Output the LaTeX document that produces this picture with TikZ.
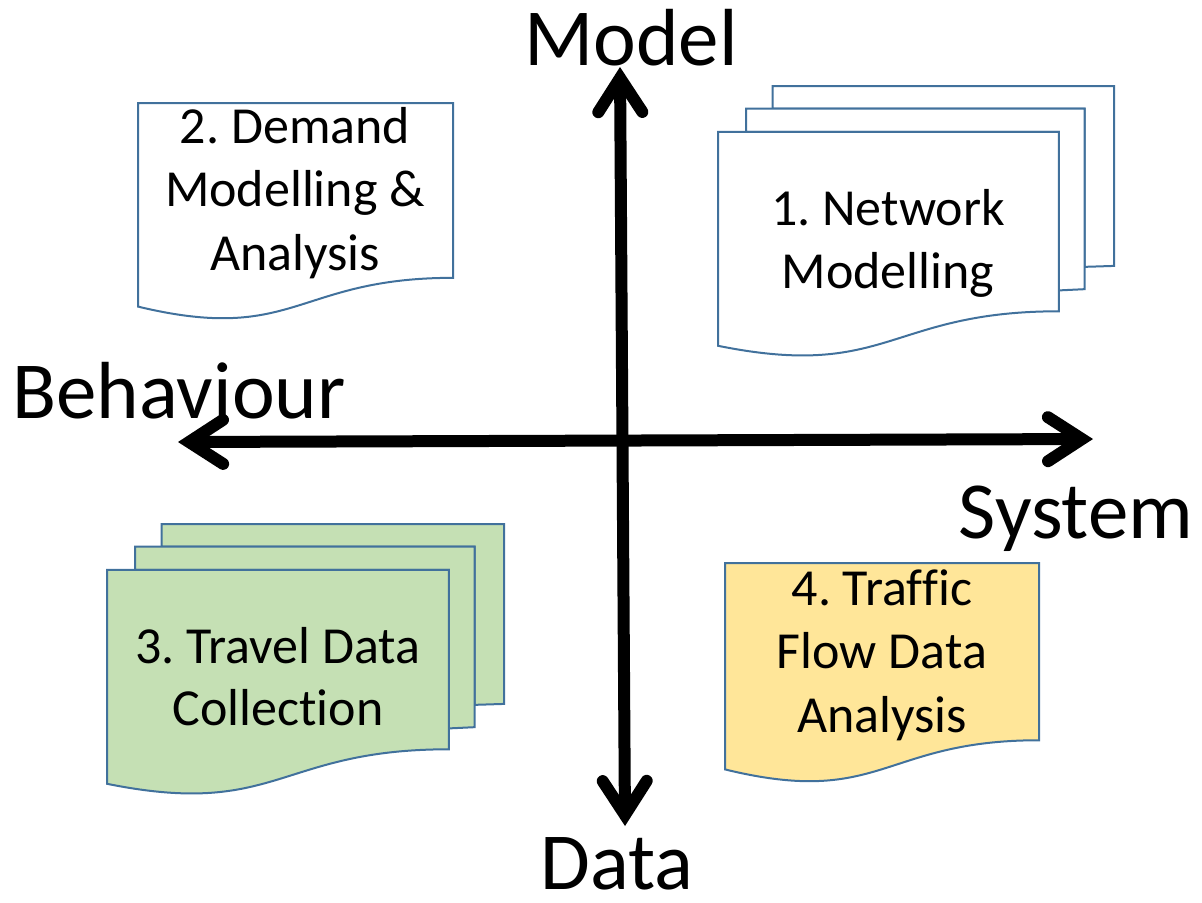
\documentclass[tikz,border=0pt]{standalone}
\usepackage{fontspec}
\setmainfont[RawFeature={-liga;-clig;-dlig;-calt}]{Carlito}
\usetikzlibrary{arrows.meta,calc}
\frenchspacing

\definecolor{sheetline}{HTML}{41719C}
\definecolor{sheetgreen}{HTML}{C5E0B4}
\definecolor{sheetyellow}{HTML}{FFE699}

% single document sheet with a wavy bottom edge: #1,#2 = top-left, #3 = width, #4 = height, #5 = fill
\newcommand{\DocSheet}[5]{%
  \draw[sheet, fill=#5]
    (#1,#2) -- ({#1+#3},#2) -- ({#1+#3},{#2+0.80194*#4})
    .. controls ({#1+0.5*#3},{#2+0.80194*#4}) and ({#1+0.5*#3},{#2+1.10750*#4}) ..
    (#1,{#2+0.93389*#4}) -- cycle;}

% stack of three document sheets: #1,#2 = top-left, #3 = width, #4 = height, #5 = fill
\newcommand{\MultiDocSheet}[5]{%
  % back sheet
  \draw[sheet, fill=#5]
    ({#1+0.13759*#3},#2) -- ({#1+#3},#2) -- ({#1+#3},{#2+0.66630*#4})
    -- ({#1+0.92593*#3},{#2+0.66977*#4}) -- ({#1+0.92593*#3},{#2+0.08403*#4})
    -- ({#1+0.13759*#3},{#2+0.08403*#4}) -- cycle;
  % middle sheet
  \draw[sheet, fill=#5]
    ({#1+0.07093*#3},{#2+0.08403*#4}) -- ({#1+0.92593*#3},{#2+0.08403*#4})
    -- ({#1+0.92593*#3},{#2+0.75241*#4}) -- ({#1+0.86088*#3},{#2+0.75704*#4})
    -- ({#1+0.86088*#3},{#2+0.17014*#4}) -- ({#1+0.07093*#3},{#2+0.17014*#4}) -- cycle;
  % front sheet
  \draw[sheet, fill=#5]
    (#1,{#2+0.17014*#4}) -- ({#1+0.86088*#3},{#2+0.17014*#4})
    -- ({#1+0.86088*#3},{#2+0.83435*#4})
    .. controls ({#1+0.43046*#3},{#2+0.83435*#4}) and ({#1+0.43046*#3},{#2+1.08991*#4}) ..
    (#1,{#2+0.96213*#4}) -- cycle;}

\begin{document}
\begin{tikzpicture}[x=0.5pt, y=-0.5pt,
  sheet/.style={draw=sheetline, line width=1pt, line join=miter},
  boxtext/.style={anchor=base, inner sep=0pt, font=\fontsize{26}{31.5}\selectfont},
  axislabel/.style={anchor=base, inner sep=0pt, font=\fontsize{40.5}{48}\selectfont},
  axis/.style={line width=6pt,
    {Straight Barb[length=17pt, width=22pt, line cap=round, line join=miter]}-{Straight Barb[length=17pt, width=22pt, line cap=round, line join=miter]}}]

\path[use as bounding box] (0,0) rectangle (1202,902);

% document sheets
\DocSheet{138}{103}{315}{218}{white}
\MultiDocSheet{718}{86}{396}{270}{white}
\MultiDocSheet{107}{524}{397}{270}{sheetgreen}
\DocSheet{725}{563}{314}{221}{sheetyellow}

% sheet texts
\node[boxtext] (dm1) at (295,143) {2. Demand};
\node[boxtext] (dm2) at (295,206.5) {Modelling \&};
\node[boxtext] (dm3) at (295,270) {Analysis};

\node[boxtext] (nm1) at (888,225) {1. Network};
\node[boxtext] (nm2) at (888,288) {Modelling};

\node[boxtext] (tc1) at (278,663) {3. Travel Data};
\node[boxtext] (tc2) at (278,725) {Collect\kern0pt ion};

\node[boxtext] (tf1) at (882,605) {4. Traf\kern0pt f\kern0pt ic};
\node[boxtext] (tf2) at (882,668) {Flow Data};
\node[boxtext] (tf3) at (882,732) {Analysis};

% axes
\coordinate (axL) at (178,442);
\coordinate (axR) at (1093,439);
\coordinate (axT) at (620,67);
\coordinate (axB) at (625,826);
\draw[axis] (axL) -- (axR);
\draw[axis] (axB) -- (axT);

% axis labels
\node[axislabel] (lmodel) at (631,65) {Model};
\node[axislabel] (lbehav) at (179,418) {Behaviour};
\node[axislabel] (lsystem) at (1076,538) {System};
\node[axislabel] (ldata) at (617,889) {Data};

\end{tikzpicture}
\end{document}
